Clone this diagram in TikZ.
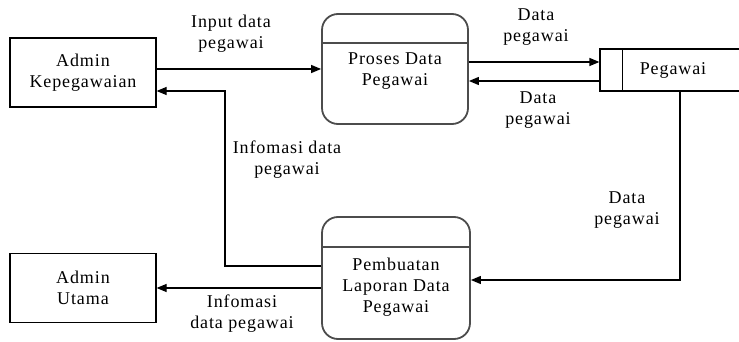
\documentclass[tikz,border=0pt]{standalone}
\usepackage{fontspec}
\setmainfont[LetterSpace=5]{Liberation Serif}
\usetikzlibrary{arrows.meta}

\tikzset{
    ent/.style={draw, line width=1.2pt, minimum width=146, minimum height=69, align=center},
    proc/.style={draw=black!70, line width=1.8pt, rounded corners=16pt, minimum width=146},
    flow/.style={line width=1.2pt, -{Triangle[length=10pt,width=8pt]}},
    lbl/.style={align=center}
}

\begin{document}
\begin{tikzpicture}[x=1pt,y=-1pt,font=\fontsize{18}{21}\selectfont]
    \useasboundingbox (0,0) rectangle (739,342);
    % external entities
    \node[ent] (admk) at (83,72.5) {Admin\\Kepegawaian};
    \node[ent] (admu) at (83,288) {Admin\\Utama};
    % processes
    \node[proc, minimum height=110] (proses) at (395,69) {};
    \draw[black!70, line width=1.3pt] (proses.west |- 0,43) -- (proses.east |- 0,43);
    \node[lbl] (prosestxt) at (395,71) {Proses Data\\Pegawai};
    \node[proc, minimum width=148, minimum height=122] (lapor) at (396,278) {};
    \draw[black!70, line width=1.3pt] (lapor.west |- 0,247) -- (lapor.east |- 0,247);
    \node[lbl] (laportxt) at (396,287) {Pembuatan\\Laporan Data\\Pegawai};
    % data store
    \node[draw, line width=1.2pt, minimum width=146, minimum height=42] (pgw) at (673,70) {Pegawai};
    \draw[line width=1.2pt] (pgw.north west) ++(23,0) -- ++(0,42);
    % flows
    \draw[flow] (admk.east |- 0,69) -- (proses.west |- 0,69);
    \draw[flow] (proses.east |- 0,62) -- (pgw.west |- 0,62);
    \draw[flow] (pgw.west |- 0,81) -- (proses.east |- 0,81);
    \draw[flow] (pgw.south -| 680,0) |- (lapor.east |- 0,280);
    \draw[flow] (lapor.west |- 0,266) -| (225,91) -- (admk.east |- 0,91);
    \draw[flow] (lapor.west |- 0,288) -- (admu.east |- 0,288);
    % labels
    \node[lbl] (l1) at (231,34) {Input data\\pegawai};
    \node[lbl] (l2) at (536,27) {Data\\pegawai};
    \node[lbl] (l3) at (538,110) {Data\\pegawai};
    \node[lbl] (l4) at (287,160) {Infomasi data\\pegawai};
    \node[lbl] (l5) at (627,210) {Data\\pegawai};
    \node[lbl] (l6) at (242,314) {Infomasi\\data pegawai};
\end{tikzpicture}
\end{document}
